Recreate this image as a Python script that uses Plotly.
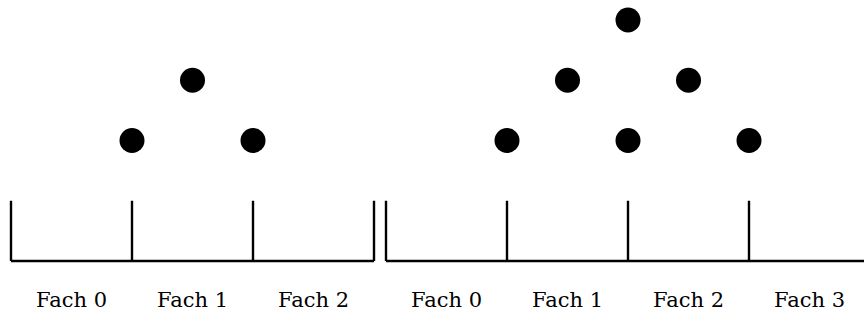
import plotly.graph_objects as go

# Data
left_bins = ["Fach 0", "Fach 1", "Fach 2"]
right_bins = ["Fach 0", "Fach 1", "Fach 2", "Fach 3"]
left_ball_x = [1, 1.5, 2]
left_ball_y = [1, 2, 1]
right_ball_x = [1, 1.5, 2, 2.5, 2, 3]
right_ball_y = [1, 2, 3, 2, 1, 1]

W, H = 864, 315
PX_X = 121.0   # pixels per bin
PX_Y = 60.25   # pixels per unit height
BASE_PX = 261  # pixel row of baseline
BALL_OFFSET = 1.0  # balls sit one unit above tick top
TICK_H = 1.0
LABEL_Y = -0.67

fig = go.Figure()

def add_panel(bins, bx, by, xa, ya):
    n = len(bins)
    xs, ys = [], []
    # baseline
    xs += [0, n, None]
    ys += [0, 0, None]
    for e in range(n + 1):
        xs += [e, e, None]
        ys += [0, TICK_H, None]
    fig.add_trace(go.Scatter(x=xs, y=ys, mode="lines",
                             line=dict(color="black", width=2.4),
                             xaxis=xa, yaxis=ya, showlegend=False, hoverinfo="skip"))
    fig.add_trace(go.Scatter(x=bx, y=[v + BALL_OFFSET for v in by], mode="markers",
                             marker=dict(color="black", size=25, line=dict(width=0)),
                             xaxis=xa, yaxis=ya, showlegend=False, cliponaxis=False))
    fig.add_trace(go.Scatter(x=[i + 0.5 for i in range(n)], y=[LABEL_Y] * n,
                             mode="text", text=bins, textposition="middle center",
                             textfont=dict(family="DejaVu Serif", size=21, color="black"),
                             xaxis=xa, yaxis=ya, showlegend=False, hoverinfo="skip",
                             cliponaxis=False))

add_panel(left_bins, left_ball_x, left_ball_y, "x", "y")
add_panel(right_bins, right_ball_x, right_ball_y, "x2", "y")

split = 380
yr = [-(H - BASE_PX) / PX_Y, BASE_PX / PX_Y]
fig.update_layout(
    width=W, height=H, margin=dict(l=0, r=0, t=0, b=0),
    paper_bgcolor="white", plot_bgcolor="white",
    xaxis=dict(domain=[0, split / W], range=[-11 / PX_X, (split - 11) / PX_X], visible=False),
    xaxis2=dict(domain=[split / W, 1], range=[-(386 - split) / PX_X, (W - 386) / PX_X], visible=False),
    yaxis=dict(domain=[0, 1], range=yr, visible=False),
)
fig.write_html("out.html", config={"displayModeBar": False},
               post_script="document.body.style.margin='0';document.body.style.overflow='hidden';")
